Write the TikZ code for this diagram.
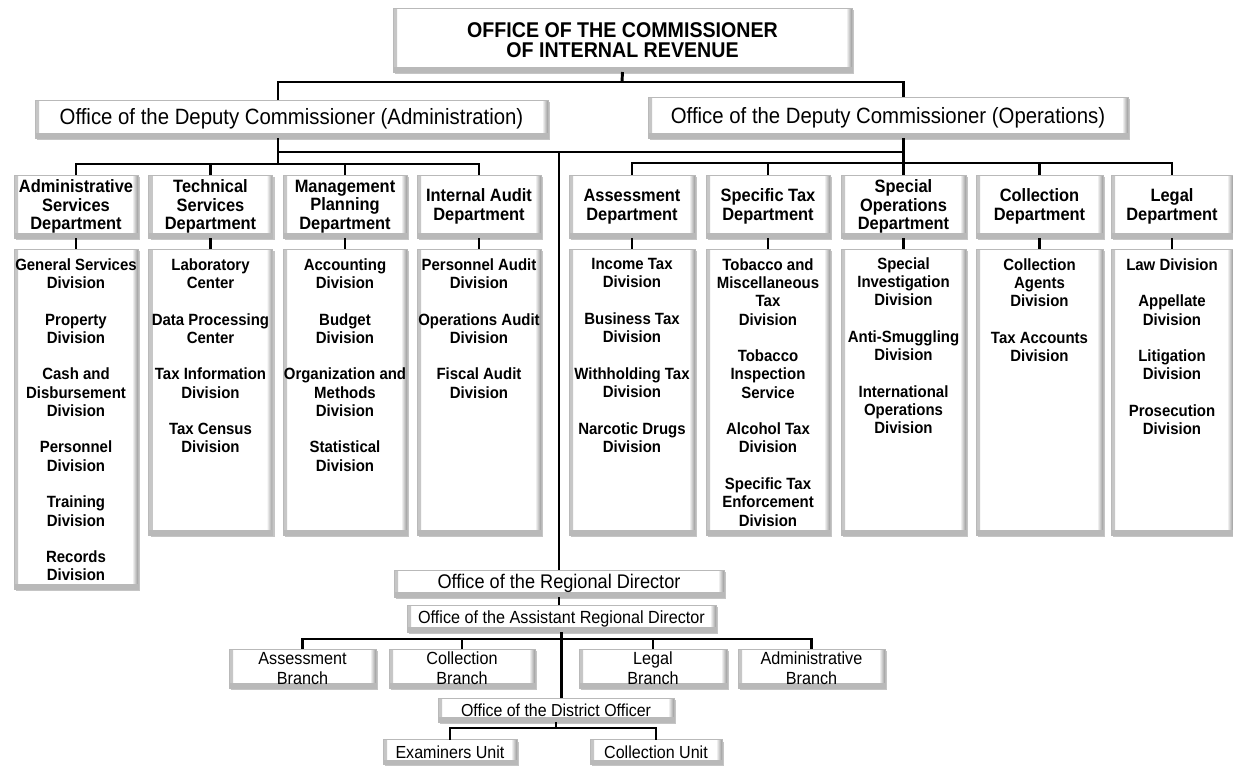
\documentclass[tikz,border=0pt]{standalone}
\usepackage{fontspec}
\setmainfont{Liberation Sans}[FakeStretch=0.92]
\usetikzlibrary{calc,shadows}

\tikzset{every picture/.style={line width=0.75pt}}
\tikzset{
  sz/.style 2 args={minimum width=#1*0.75pt, minimum height=#2*0.75pt},
  bevel/.style={fill=white, draw=gray!55, line width=0.6pt, inner sep=0pt, outer sep=0pt,
    drop shadow={shadow xshift=1.5pt, shadow yshift=-1.5pt, fill=black!45, opacity=0.5},
    path picture={
      \fill[left color=gray!45, right color=white] (path picture bounding box.north west) rectangle ($(path picture bounding box.south west)!3pt!(path picture bounding box.south east)$);
      \fill[left color=white, right color=gray!80] (path picture bounding box.north east) rectangle ($(path picture bounding box.south east)!4.5pt!(path picture bounding box.south west)$);
      \fill[gray!55] (path picture bounding box.south west) rectangle ($(path picture bounding box.south east)!3.5pt!(path picture bounding box.north east)$);
    }},
  link/.style={line width=2.2pt},
  title/.style={font=\bfseries\fontsize{16}{15.5}\selectfont, align=center},
  deputy/.style={font=\fontsize{16.6}{18}\selectfont},
  dept/.style={font=\bfseries\fontsize{13.4}{13.9}\selectfont, align=center},
  divlist/.style={font=\bfseries\fontsize{12.2}{13.7}\selectfont, align=center, anchor=north, inner sep=0pt},
  office/.style={font=\fontsize{13.2}{15}\selectfont, align=center},
}

\begin{document}
\begin{tikzpicture}[x=0.75pt,y=0.75pt,yscale=-1,xscale=1]
\useasboundingbox (0,0) rectangle (1233,765);

%Commissioner
\node[bevel, sz={459}{64}, title] (comm) at (622.5,40) {OFFICE OF THE COMMISSIONER\\OF INTERNAL REVENUE};

%Deputy commissioners
\node[bevel, sz={513}{38}, deputy] (admDep) at (291.5,119) {Office of the Deputy Commissioner (Administration)};
\node[bevel, sz={480}{41}, deputy] (opsDep) at (888,117.5) {Office of the Deputy Commissioner (Operations)};

%Departments (administration)
\node[bevel, sz={124}{63}, dept] (admSvc-dept) at (76,206.5) {Administrative\\Services\\Department};
\node[bevel, sz={124}{63}, dept] (techSvc-dept) at (210.5,206.5) {Technical\\Services\\Department};
\node[bevel, sz={124}{63}, dept] (mgmtPlan-dept) at (345,206.5) {Management\\Planning\\Department};
\node[bevel, sz={124}{63}, dept] (intAudit-dept) at (479,206.5) {Internal Audit\\Department};

%Departments (operations)
\node[bevel, sz={126}{63}, dept] (assess-dept) at (632,206.5) {Assessment\\Department};
\node[bevel, sz={124}{63}, dept] (specTax-dept) at (768,206.5) {Specific Tax\\Department};
\node[bevel, sz={125}{63}, dept] (specOps-dept) at (903.5,206.5) {Special\\Operations\\Department};
\node[bevel, sz={127}{63}, dept] (coll-dept) at (1039.5,206.5) {Collection\\Department};
\node[bevel, sz={122}{63}, dept] (legal-dept) at (1172,206.5) {Legal\\Department};

%Division boxes
\node[bevel, sz={124}{340}] (admSvc-div) at (76,419) {};
\node[bevel, sz={124}{286}] (techSvc-div) at (210.5,392) {};
\node[bevel, sz={124}{286}] (mgmtPlan-div) at (345,392) {};
\node[bevel, sz={124}{286}] (intAudit-div) at (479,392) {};
\node[bevel, sz={126}{286}] (assess-div) at (632,392) {};
\node[bevel, sz={124}{286}] (specTax-div) at (768,392) {};
\node[bevel, sz={125}{286}] (specOps-div) at (903.5,392) {};
\node[bevel, sz={127}{286}] (coll-div) at (1039.5,392) {};
\node[bevel, sz={122}{286}] (legal-div) at (1172,392) {};

%Division lists
\node[divlist] (admSvc-txt) at ($(admSvc-div.north)+(0,9)$) {General Services\\Division\\[13.7pt]Property\\Division\\[13.7pt]Cash and\\Disbursement\\Division\\[13.7pt]Personnel\\Division\\[13.7pt]Training\\Division\\[13.7pt]Records\\Division};
\node[divlist] (techSvc-txt) at ($(techSvc-div.north)+(0,9)$) {Laboratory\\Center\\[13.7pt]Data Processing\\Center\\[13.7pt]Tax Information\\Division\\[13.7pt]Tax Census\\Division};
\node[divlist] (mgmtPlan-txt) at ($(mgmtPlan-div.north)+(0,9)$) {Accounting\\Division\\[13.7pt]Budget\\Division\\[13.7pt]Organization and\\Methods\\Division\\[13.7pt]Statistical\\Division};
\node[divlist] (intAudit-txt) at ($(intAudit-div.north)+(0,9)$) {Personnel Audit\\Division\\[13.7pt]Operations Audit\\Division\\[13.7pt]Fiscal Audit\\Division};
\node[divlist] (assess-txt) at ($(assess-div.north)+(0,9)$) {Income Tax\\Division\\[13.7pt]Business Tax\\Division\\[13.7pt]Withholding Tax\\Division\\[13.7pt]Narcotic Drugs\\Division};
\node[divlist] (specTax-txt) at ($(specTax-div.north)+(0,9)$) {Tobacco and\\Miscellaneous\\Tax\\Division\\[13.7pt]Tobacco\\Inspection\\Service\\[13.7pt]Alcohol Tax\\Division\\[13.7pt]Specific Tax\\Enforcement\\Division};
\node[divlist] (specOps-txt) at ($(specOps-div.north)+(0,8)$) {Special\\Investigation\\Division\\[13.7pt]Anti-Smuggling\\Division\\[13.7pt]International\\Operations\\Division};
\node[divlist] (coll-txt) at ($(coll-div.north)+(0,9)$) {Collection\\Agents\\Division\\[13.7pt]Tax Accounts\\Division};
\node[divlist] (legal-txt) at ($(legal-div.north)+(0,9)$) {Law Division\\[13.7pt]Appellate\\Division\\[13.7pt]Litigation\\Division\\[13.7pt]Prosecution\\Division};

%Regional offices
\node[bevel, sz={330}{27}, office, font=\fontsize{14.8}{15}\selectfont] (regDir) at (559,583.5) {Office of the Regional Director};
\node[bevel, sz={309}{27}, office] (asstDir) at (561.5,618.5) {Office of the Assistant Regional Director};
\node[bevel, sz={147}{39}, office] (assessBr) at (302.5,668.5) {Assessment\\Branch};
\node[bevel, sz={146}{39}, office] (collBr) at (462,668.5) {Collection\\Branch};
\node[bevel, sz={148}{39}, office] (legalBr) at (653,668.5) {Legal\\Branch};
\node[bevel, sz={147}{39}, office] (adminBr) at (811.5,668.5) {Administrative\\Branch};
\node[bevel, sz={236}{24}, office, font=\fontsize{13}{15}\selectfont] (distOff) at (556,710) {Office of the District Officer};
\node[bevel, sz={134}{25}, office, font=\fontsize{13.1}{15}\selectfont] (examUnit) at (450,752) {Examiners Unit};
\node[bevel, sz={132}{25}, office, font=\fontsize{13.1}{15}\selectfont] (collUnit) at (656,752) {Collection Unit};

%Connectors
\coordinate (bar1) at (622,82);
\coordinate (admTop) at (278,100);
\coordinate (admBot) at (278,138);
\coordinate (bar2) at (278,152);
\coordinate (admBar) at (278,164);
\coordinate (opsBar) at (905,163);
\draw[link] (comm.south) -- (bar1);
\draw[link] (admTop) |- (bar1) -| (specOps-dept.north |- opsDep.north);
\draw[link] (admBot) -- (admBar);
\draw[link] (bar2) -- (specOps-dept.north |- bar2);
\draw[link] (specOps-dept.north |- opsDep.south) -- (specOps-dept.north);
\draw[link] (regDir.north |- bar2) -- (regDir.north);
\draw[link] (admSvc-dept.north) |- (admBar) -| (intAudit-dept.north);
\draw[link] (techSvc-dept.north) -- (techSvc-dept.north |- admBar);
\draw[link] (mgmtPlan-dept.north) -- (mgmtPlan-dept.north |- admBar);
\draw[link] (assess-dept.north) |- (opsBar) -| (legal-dept.north);
\draw[link] (specTax-dept.north) -- (specTax-dept.north |- opsBar);
\draw[link] (coll-dept.north) -- (coll-dept.north |- opsBar);
\foreach \d in {admSvc,techSvc,mgmtPlan,intAudit,assess,specTax,specOps,coll,legal}
  \draw[link] (\d-dept.south) -- (\d-div.north);

\coordinate (brBar) at (558,639);
\coordinate (unitBar) at (558,728);
\draw[link] (regDir.south) -- (regDir.south |- asstDir.north);
\draw[link] (asstDir.south) -- (asstDir.south |- distOff.north);
\draw[link] (assessBr.north) |- (brBar) -| (adminBr.north);
\draw[link] (collBr.north) -- (collBr.north |- brBar);
\draw[link] (legalBr.north) -- (legalBr.north |- brBar);
\draw[link] (distOff.south) -- (distOff.south |- unitBar);
\draw[link] (examUnit.north) |- (unitBar) -| (collUnit.north);

\end{tikzpicture}
\end{document}
